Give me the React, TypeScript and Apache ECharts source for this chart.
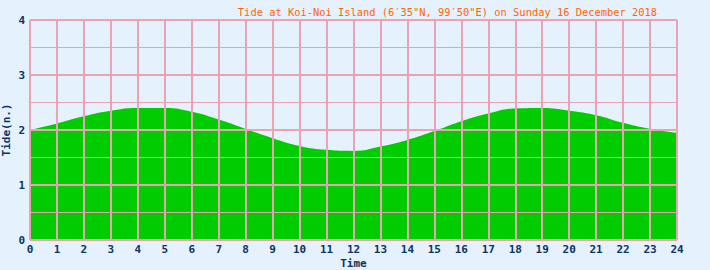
import React, { useEffect, useRef } from "react";
import * as echarts from "echarts";

const titleText = "Tide at Koi-Noi Island (6\u203235\"N, 99\u203250\"E) on Sunday 16 December 2018";
const hours = [0, 1, 2, 3, 4, 5, 6, 7, 8, 9, 10, 11, 12, 13, 14, 15, 16, 17, 18, 19, 20, 21, 22, 23, 24];
const tide = [2.0, 2.12, 2.25, 2.35, 2.4, 2.4, 2.33, 2.19, 2.02, 1.85, 1.71, 1.64, 1.62, 1.7, 1.82, 1.98, 2.16, 2.3, 2.39, 2.4, 2.35, 2.27, 2.13, 2.02, 1.95];

const PINK = "#e9a3b5";
const TEXT = "#0b3366";
const FONT = "'DejaVu Sans Mono', monospace";

export default function App() {
  const ref = useRef<HTMLDivElement>(null);
  useEffect(() => {
    const chart = echarts.init(ref.current!, null, { renderer: "svg" });
    chart.setOption({
      animation: false,
      backgroundColor: "#e5f1fd",
      title: {
        text: titleText,
        right: 48,
        top: 2,
        textStyle: { color: "#ff6600", fontFamily: FONT, fontSize: 10.4, fontWeight: "normal" },
      },
      grid: { left: 30, right: 33, top: 20, bottom: 30, outerBoundsMode: "none", containLabel: false },
      xAxis: {
        type: "value",
        min: 0,
        max: 24,
        interval: 1,
        z: 5,
        name: "Time",
        nameLocation: "middle",
        nameGap: 18,
        nameMoveOverlap: false,
        nameTextStyle: { color: TEXT, fontFamily: FONT, fontSize: 11, fontWeight: "bold" },
        axisLine: { show: false },
        axisTick: { show: false },
        axisLabel: { color: TEXT, fontFamily: FONT, fontSize: 11, fontWeight: "bold", margin: 4 },
        splitLine: { show: true, lineStyle: { color: PINK, width: 2 } },
      },
      yAxis: [
        {
          type: "value",
          min: 0,
          max: 4,
          interval: 1,
          z: 6,
          name: "Tide(n.)",
          nameLocation: "middle",
          nameGap: 18,
          nameMoveOverlap: false,
          nameTextStyle: { color: TEXT, fontFamily: FONT, fontSize: 11, fontWeight: "bold" },
          axisLine: { show: false },
          axisTick: { show: false },
          axisLabel: { color: TEXT, fontFamily: FONT, fontSize: 11, fontWeight: "bold", margin: 5 },
          splitLine: { show: true, lineStyle: { color: PINK, width: 2 } },
        },
        {
          type: "value",
          position: "left",
          min: 0,
          max: 4,
          interval: 0.5,
          z: 5,
          axisLine: { show: false },
          axisTick: { show: false },
          axisLabel: { show: false },
          splitLine: { show: true, lineStyle: { color: PINK, width: 1 } },
        },
      ],
      series: [
        {
          type: "line",
          yAxisIndex: 0,
          data: hours.map((h, i) => [h, tide[i]]),
          smooth: true,
          symbol: "none",
          lineStyle: { width: 0 },
          areaStyle: { color: "#00cc00", opacity: 1 },
          z: 2,
        },
      ],
    });
    return () => chart.dispose();
  }, []);
  return <div ref={ref} style={{ width: 710, height: 270, position: "absolute", left: 0, top: 0 }} />;
}
